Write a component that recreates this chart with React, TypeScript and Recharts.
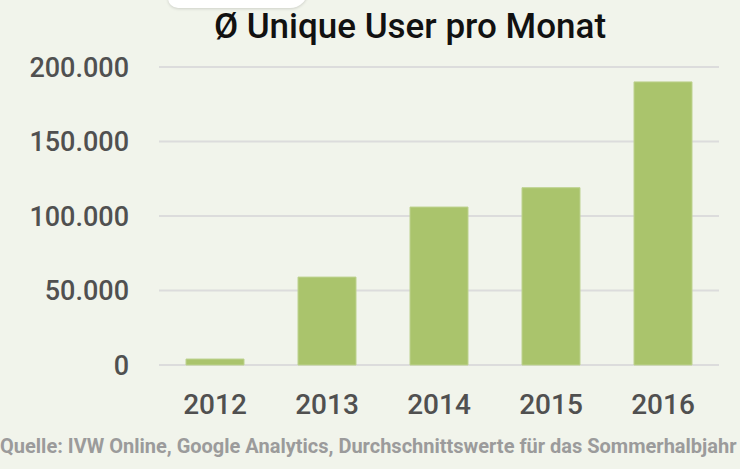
import React from "react";
import { BarChart, Bar, XAxis, YAxis, CartesianGrid } from "recharts";

// Ø unique users per month, summer half-year averages
const years = ["2012", "2013", "2014", "2015", "2016"];
const users = [4000, 59000, 106000, 119000, 190000];
const yTicks = [0, 50000, 100000, 150000, 200000];

const data = years.map((year, i) => ({ year, users: users[i] }));

const FONT = "Roboto, 'DejaVu Sans', sans-serif";

// German thousands separator: 200000 -> "200.000"
const formatDe = (v: number) => String(v).replace(/\B(?=(\d{3})+(?!\d))/g, ".");

export default function App() {
  return (
    <div
      style={{
        position: "fixed",
        left: 0,
        top: 0,
        width: 740,
        height: 469,
        background: "#f1f4eb",
        overflow: "hidden",
        fontFamily: FONT,
      }}
    >
      {/* white card edge peeking in from the top */}
      <div
        style={{
          position: "absolute",
          left: 168,
          top: -30,
          width: 140,
          height: 38,
          background: "#ffffff",
          borderRadius: "0 0 18px 10px",
          boxShadow: "0 1px 3px rgba(0,0,0,0.15)",
        }}
      />
      <div
        style={{
          position: "absolute",
          left: 159,
          width: 502,
          top: 6,
          textAlign: "center",
          fontSize: 35,
          fontWeight: 500,
          color: "#111111",
        }}
      >
        Ø Unique User pro Monat
      </div>
      <BarChart
        width={740}
        height={469}
        data={data}
        margin={{ top: 67, right: 21, bottom: 44, left: 0 }}
        style={{ position: "absolute", left: 0, top: 0 }}
      >
        <CartesianGrid vertical={false} stroke="#dcdcdc" strokeWidth={2} />
        <XAxis
          dataKey="year"
          axisLine={false}
          tickLine={false}
          tickSize={0}
          tickMargin={29}
          height={60}
          tick={{ fill: "#505050", fontSize: 28, fontWeight: 500, fontFamily: FONT }}
        />
        <YAxis
          width={159}
          domain={[0, 200000]}
          ticks={yTicks}
          axisLine={false}
          tickLine={false}
          tickSize={0}
          tickMargin={30}
          tickFormatter={formatDe}
          tick={{ fill: "#505050", fontSize: 27, fontWeight: 500, fontFamily: FONT }}
        />
        <Bar
          dataKey="users"
          fill="#aac46c"
          stroke="#bdd28f"
          strokeWidth={1}
          barSize={58}
          isAnimationActive={false}
        />
      </BarChart>
      <div
        style={{
          position: "absolute",
          left: 0,
          top: 434,
          width: 740,
          textAlign: "left",
          fontSize: 20,
          fontWeight: "bold",
          color: "#9b9b9b",
          whiteSpace: "nowrap",
        }}
      >
        Quelle: IVW Online, Google Analytics, Durchschnittswerte für das Sommerhalbjahr
      </div>
    </div>
  );
}
